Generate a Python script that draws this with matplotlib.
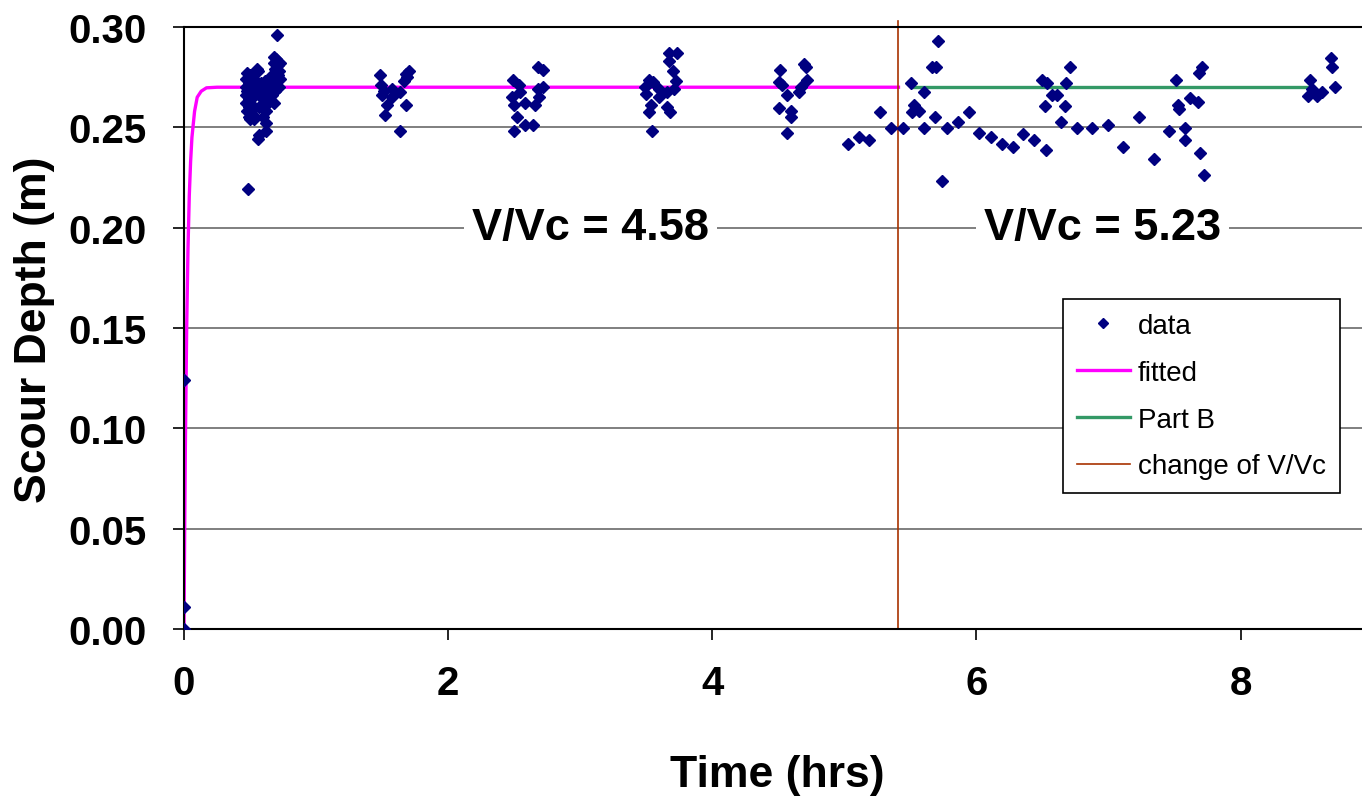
import matplotlib.pyplot as plt
import numpy as np

plt.rcParams['font.family'] = ['Liberation Sans', 'DejaVu Sans']

# Measured scour depth (m) against time (hrs), grouped by reading session
t_start = [0.0, 0.0, 0.0]
d_start = [0.000, 0.011, 0.124]

t_s1 = [0.47, 0.47, 0.47, 0.47, 0.48, 0.48, 0.48, 0.49, 0.49, 0.49, 0.49, 0.50, 0.50, 0.50,
        0.51, 0.51, 0.52, 0.52, 0.53, 0.53, 0.54, 0.55, 0.56, 0.57, 0.58, 0.59, 0.60, 0.61,
        0.62, 0.62, 0.63, 0.60, 0.64, 0.62, 0.62, 0.57, 0.56, 0.66, 0.67, 0.67, 0.68, 0.68,
        0.69, 0.70, 0.70, 0.71, 0.71, 0.72, 0.72, 0.73, 0.73, 0.68, 0.69, 0.707, 0.485]
d_s1 = [0.262, 0.266, 0.270, 0.274, 0.258, 0.268, 0.277, 0.255, 0.260, 0.264, 0.272, 0.254, 0.262, 0.276,
        0.258, 0.268, 0.256, 0.270, 0.254, 0.274, 0.266, 0.279, 0.278, 0.260, 0.272, 0.268, 0.264, 0.273,
        0.261, 0.258, 0.267, 0.255, 0.264, 0.252, 0.248, 0.246, 0.244, 0.270, 0.266, 0.276, 0.282, 0.285,
        0.279, 0.284, 0.273, 0.281, 0.276, 0.270, 0.278, 0.282, 0.274, 0.262, 0.268, 0.296, 0.2195]

t_s2 = [1.485, 1.49, 1.502, 1.515, 1.54, 1.52, 1.573, 1.578, 1.636, 1.636, 1.68, 1.667, 1.68, 1.705, 1.69]
d_s2 = [0.276, 0.271, 0.266, 0.268, 0.261, 0.256, 0.269, 0.265, 0.2675, 0.248, 0.261, 0.273, 0.2767, 0.278, 0.275]

t_s3 = [2.492, 2.538, 2.543, 2.487, 2.50, 2.583, 2.525, 2.50, 2.583, 2.644, 2.66, 2.685, 2.68, 2.716, 2.68, 2.716]
d_s3 = [0.2737, 0.271, 0.2675, 0.265, 0.261, 0.262, 0.255, 0.248, 0.2513, 0.2513, 0.261, 0.265, 0.269, 0.2703, 0.2803, 0.2787]

t_s4 = [3.543, 3.523, 3.535, 3.498, 3.492, 3.523, 3.548, 3.593, 3.598, 3.66, 3.66, 3.678, 3.712,
        3.725, 3.70, 3.674, 3.674, 3.73]
d_s4 = [0.2483, 0.2575, 0.2613, 0.2667, 0.270, 0.2737, 0.2725, 0.265, 0.269, 0.2675, 0.260, 0.2575, 0.269,
        0.2733, 0.2783, 0.2833, 0.287, 0.287]

t_s5 = [4.513, 4.502, 4.528, 4.566, 4.502, 4.60, 4.60, 4.566, 4.66, 4.67, 4.72, 4.697, 4.71]
d_s5 = [0.2787, 0.2725, 0.271, 0.2662, 0.2595, 0.258, 0.255, 0.247, 0.2675, 0.270, 0.2737, 0.2817, 0.280]

t_s6 = [5.03, 5.108, 5.19, 5.27, 5.354, 5.447, 5.505, 5.525, 5.513, 5.563, 5.606, 5.606, 5.664, 5.694,
        5.707, 5.689, 5.74, 5.778, 5.858, 5.942, 6.023, 6.114, 6.195, 6.275, 6.356, 6.44, 6.528,
        6.498, 6.533, 6.52, 6.57, 6.61, 6.67, 6.68, 6.712, 6.642, 6.763, 6.874, 6.998]
d_s6 = [0.2417, 0.2453, 0.2437, 0.2578, 0.2497, 0.2497, 0.2722, 0.2613, 0.2575, 0.258, 0.2675, 0.2497, 0.280, 0.280,
        0.2928, 0.255, 0.2233, 0.2497, 0.2525, 0.2578, 0.247, 0.2453, 0.2417, 0.240, 0.2467, 0.2437, 0.2387,
        0.2737, 0.272, 0.2608, 0.2662, 0.2662, 0.2608, 0.272, 0.280, 0.2528, 0.2497, 0.2497, 0.2513]

t_s7 = [7.108, 7.23, 7.343, 7.462, 7.576, 7.576, 7.508, 7.525, 7.538, 7.614, 7.677, 7.684, 7.71, 7.697, 7.72]
d_s7 = [0.2403, 0.255, 0.2342, 0.2483, 0.2497, 0.2437, 0.2737, 0.2613, 0.2592, 0.2647, 0.2625, 0.277, 0.2803, 0.2372, 0.2262]

t_s8 = [8.528, 8.538, 8.51, 8.578, 8.62, 8.712, 8.682, 8.692]
d_s8 = [0.2737, 0.2692, 0.2658, 0.2658, 0.2675, 0.2703, 0.2847, 0.280]

# Fitted curve and Part B equilibrium line
t_fit = [0.0, 0.005, 0.01, 0.02, 0.03, 0.04, 0.05, 0.06, 0.08, 0.10, 0.13, 0.17, 0.25, 5.41]
d_fit = [0.0, 0.049, 0.089, 0.149, 0.189, 0.216, 0.233, 0.245, 0.258, 0.265, 0.268, 0.2697, 0.27, 0.27]
t_partb = [5.52, 8.52]
d_partb = [0.27, 0.27]

t_change = 5.41  # time at which V/Vc was changed

t_all = t_start + t_s1 + t_s2 + t_s3 + t_s4 + t_s5 + t_s6 + t_s7 + t_s8
d_all = d_start + d_s1 + d_s2 + d_s3 + d_s4 + d_s5 + d_s6 + d_s7 + d_s8

fig = plt.figure(figsize=(13.62, 8.03), dpi=100)
ax = fig.add_axes([0.1351, 0.2154, 0.8649, 0.7497])

# Horizontal gridlines
for yv in np.arange(0.05, 0.30, 0.05):
    ax.axhline(yv, color='#6a6a6a', lw=1.2, zorder=0)

ax.plot(t_fit, d_fit, color='#FF00FF', lw=2.4, label='fitted', zorder=2)
ax.plot(t_partb, d_partb, color='#339966', lw=2.4, label='Part B', zorder=2)
ax.plot([t_change, t_change], [0, 0.303], color='#A83200', lw=1.2, label='change of V/Vc',
        zorder=2, clip_on=False)
ax.plot(t_all, d_all, linestyle='none', marker='D', markersize=6, color='#000080',
        label='data', zorder=3)

ax.set_xlim(0, 8.92)
ax.set_ylim(0, 0.30)
ax.set_xticks([0, 2, 4, 6, 8])
ax.set_yticks(np.arange(0, 0.31, 0.05))
ax.set_yticklabels([f'{v:.2f}' for v in np.arange(0, 0.31, 0.05)])
ax.tick_params(axis='both', direction='out', length=8, width=1.2, labelsize=29)
ax.tick_params(axis='y', pad=19)
ax.tick_params(axis='x', pad=17)
for lbl in ax.get_xticklabels() + ax.get_yticklabels():
    lbl.set_fontweight('bold')

ax.spines['right'].set_visible(False)
for s in ['left', 'bottom', 'top']:
    ax.spines[s].set_linewidth(1.5)
    ax.spines[s].set_color('black')

fig.text(35 / 1362, 1 - 330 / 803, 'Scour Depth (m)', fontsize=32, fontweight='bold',
         rotation=90, ha='center', va='center')
fig.text(777 / 1362, 1 - 776 / 803, 'Time (hrs)', fontsize=32, fontweight='bold',
         ha='center', va='center')

box = dict(facecolor='white', edgecolor='none', pad=6)
ax.text(3.08, 0.20, 'V/Vc = 4.58', fontsize=32.5, fontweight='bold', ha='center', va='center',
        bbox=box, zorder=4)
ax.text(6.955, 0.20, 'V/Vc = 5.23', fontsize=32.5, fontweight='bold', ha='center', va='center',
        bbox=box, zorder=4)

# Legend in the order of the original chart
h, l = ax.get_legend_handles_labels()
order = [3, 0, 1, 2]
leg = fig.legend([h[i] for i in order], [l[i] for i in order], loc='upper left',
                 bbox_to_anchor=(1063 / 1362, 1 - 300 / 803), fontsize=20, frameon=True,
                 fancybox=False, framealpha=1, edgecolor='black', handlelength=1.9,
                 handletextpad=0.3, labelspacing=0.75, borderpad=0.5, borderaxespad=0)
leg.get_frame().set_linewidth(1.2)
leg.legend_handles[0].set_markersize(5)

fig.savefig('out.png', dpi=100)
